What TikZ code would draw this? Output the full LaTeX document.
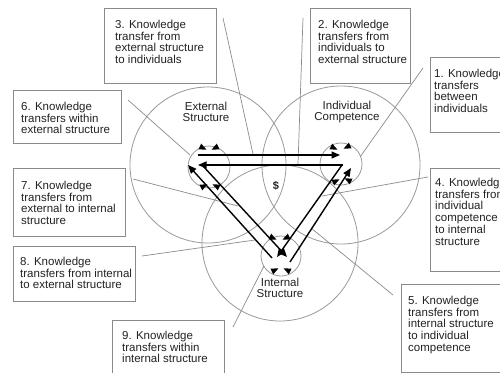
\documentclass[tikz,border=0pt]{standalone}
\usepackage{fontspec}
\setmainfont{Liberation Sans}
\usetikzlibrary{arrows.meta}
\definecolor{linegray}{HTML}{8C8C8C}
\definecolor{boxgray}{HTML}{8A8A8A}
\definecolor{circgray}{HTML}{9A9A9A}
\definecolor{txt}{HTML}{222222}
\begin{document}
\begin{tikzpicture}[x=1pt,y=-1pt,
  boxn/.style={draw=boxgray, line width=0.9pt, anchor=north west, inner sep=0pt},
  lbl/.style={anchor=north west, inner sep=0pt, align=left, text=txt, font=\fontsize{11.5}{11.7}\selectfont},
  clbl/.style={inner sep=0pt, align=center, text=txt, font=\fontsize{11.5}{11.7}\selectfont},
  circ/.style={draw=circgray, line width=0.8pt},
  lead/.style={draw=linegray, line width=0.7pt},
  flow/.style={draw=black, line width=1.4pt, -{Triangle[length=8.5pt,width=7pt]}},
  tipm/.pic={\fill[black] (-3.5pt,-3.2pt) -- (3.8pt,0pt) -- (-3.5pt,3.2pt) -- cycle;}
]
\useasboundingbox (0,0) rectangle (500,372);
\clip (0,0) rectangle (500,372);
\fill[white] (0,0) rectangle (500,372);

% big circles
\draw[circ] (208,165) circle[radius=78];
\draw[circ] (341,165) circle[radius=79];
\draw[circ] (280,243) circle[radius=78];
% small circles
\draw[circ] (209,167) circle[radius=21];
\draw[circ] (341,164) circle[radius=21];
\draw[circ] (281,256) circle[radius=20];

% circle labels
\node[clbl] (lE) at (206,112) {External\\Structure};
\node[clbl] (lI) at (347,112) {Individual\\Competence};
\node[clbl] (lN) at (280,288) {Internal\\Structure};
\node[clbl, font=\fontsize{11}{12}\selectfont\bfseries] (dol) at (276,186) {\$};

% boxes
\node[boxn, minimum width=112pt, minimum height=75pt] (b3) at (104,8) {};
\node[lbl] (t3) at ([shift={(11pt,-12pt)}]b3.north west) {3. Knowledge\\transfer from\\external structure\\to individuals};
\node[boxn, minimum width=100pt, minimum height=75pt] (b2) at (310,8) {};
\node[lbl] (t2) at ([shift={(8pt,-12pt)}]b2.north west) {2. Knowledge\\transfers from\\individuals to\\external structure};
\node[boxn, minimum width=90pt, minimum height=75pt] (b1) at (430,57) {};
\node[lbl] (t1) at ([shift={(4pt,-12pt)}]b1.north west) {1. Knowledge\\transfers\\between\\individuals};
\node[boxn, minimum width=108pt, minimum height=53pt] (b6) at (13,90) {};
\node[lbl] (t6) at ([shift={(8pt,-12pt)}]b6.north west) {6. Knowledge\\transfers within\\external structure};
\node[boxn, minimum width=112pt, minimum height=68pt] (b7) at (13,168) {};
\node[lbl] (t7) at ([shift={(8pt,-13pt)}]b7.north west) {7. Knowledge\\transfers from\\external to internal\\structure};
\node[boxn, minimum width=122pt, minimum height=55pt] (b8) at (13,246) {};
\node[lbl] (t8) at ([shift={(7pt,-11pt)}]b8.north west) {8. Knowledge\\transfers from internal\\to external structure};
\node[boxn, minimum width=112pt, minimum height=60pt] (b9) at (112,320) {};
\node[lbl] (t9) at ([shift={(10pt,-11pt)}]b9.north west) {9. Knowledge\\transfers within\\internal structure};
\node[boxn, minimum width=90pt, minimum height=103pt] (b4) at (430,168) {};
\node[lbl] (t4) at ([shift={(5pt,-10pt)}]b4.north west) {4. Knowledge\\transfers from\\individual\\competence\\to internal\\structure};
\node[boxn, minimum width=110pt, minimum height=88pt] (b5) at (401,284) {};
\node[lbl] (t5) at ([shift={(7pt,-12pt)}]b5.north west) {5. Knowledge\\transfers from\\internal structure\\to individual\\competence};

% leader line coordinates
\coordinate (s3) at (223,18);  \coordinate (e3) at (253,154);
\coordinate (s2) at (303,18);  \coordinate (e2) at (298,164);
\coordinate (s1) at (423,68);  \coordinate (e1) at (360,157);
\coordinate (s6) at (128,100); \coordinate (e6) at (190,155);
\coordinate (s7) at (133,179); \coordinate (e7) at (238,206);
\coordinate (s8) at (142,256); \coordinate (e8) at (255,240);
\coordinate (s9) at (233,327); \coordinate (e9) at (264,266);
\coordinate (s4) at (428,177); \coordinate (e4) at (322,196);
\coordinate (s5) at (393,295); \coordinate (e5) at (311,228);
\foreach \k in {1,...,9} {\draw[lead] (s\k) -- (e\k);}

% flow arrows
\coordinate (u1) at (198,155); \coordinate (u2) at (340,155);
\coordinate (w1) at (343,165); \coordinate (w2) at (198,165);
\coordinate (lo1) at (272,258); \coordinate (lo2) at (188,165);
\coordinate (li1) at (203,166); \coordinate (li2) at (287,257);
\coordinate (ri1) at (342,165); \coordinate (ri2) at (277,257);
\coordinate (ro1) at (290,262); \coordinate (ro2) at (351,168);
\draw[flow] (u1) -- (u2);
\draw[flow] (w1) -- (w2);
\draw[flow] (lo1) -- (lo2);
\draw[flow] (li1) -- (li2);
\draw[flow] (ri1) -- (ri2);
\draw[flow] (ro1) -- (ro2);

% small circulation tips
\pic[rotate=-25] at (203,148) {tipm};
\pic[rotate=205] at (215,148) {tipm};
\pic[rotate=25] at (204,186) {tipm};
\pic[rotate=155] at (216,186) {tipm};
\pic[rotate=-25] at (334,148) {tipm};
\pic[rotate=205] at (347,147) {tipm};
\pic[rotate=25] at (336,181) {tipm};
\pic[rotate=155] at (348,180) {tipm};
\pic[rotate=-25] at (273,238) {tipm};
\pic[rotate=205] at (286,238) {tipm};
\pic[rotate=25] at (275,270) {tipm};
\pic[rotate=155] at (287,270) {tipm};
\end{tikzpicture}
\end{document}
